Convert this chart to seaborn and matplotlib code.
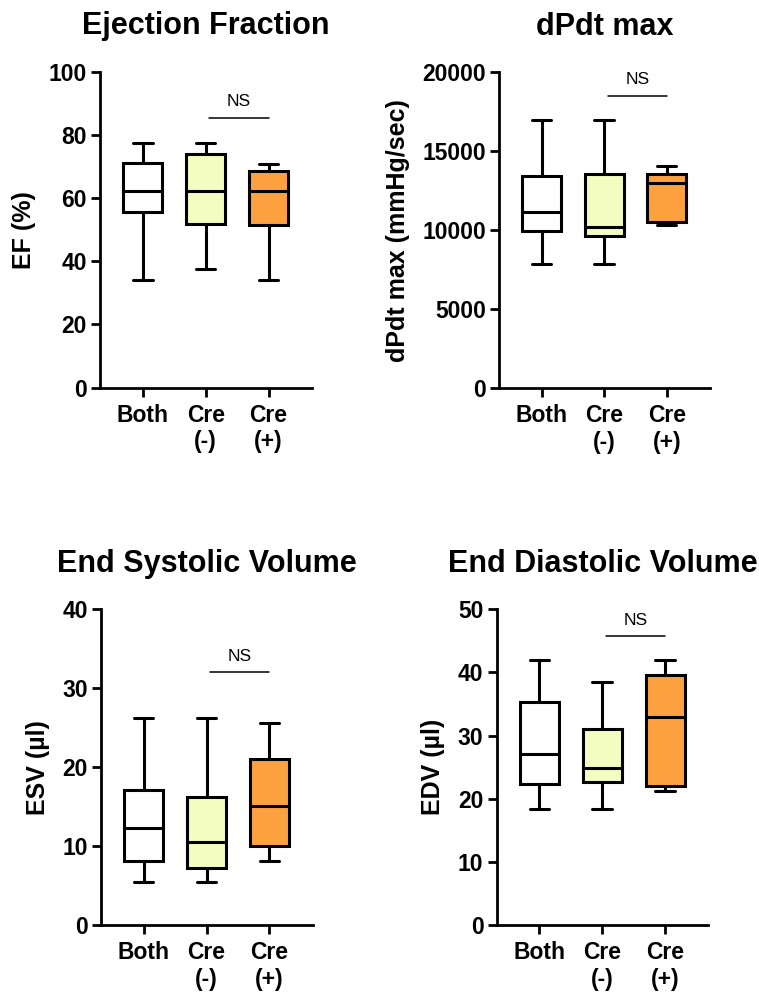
import pandas as pd
import numpy as np
from matplotlib import pyplot as plt
import seaborn as sns

groups = ['Both', 'Cre\n(-)', 'Cre\n(+)']
colors = ['#FFFFFF', '#F3FDC1', '#FDA040']

# five-number summaries per group: min, Q1, median, Q3, max
ef_both = [34.1, 55.6, 62.4, 71.2, 77.3]
ef_cre_neg = [37.6, 51.7, 62.2, 73.8, 77.3]
ef_cre_pos = [34.1, 51.6, 62.4, 68.5, 70.9]

dpdt_both = [7850, 9940, 11140, 13440, 17000]
dpdt_cre_neg = [7850, 9620, 10230, 13570, 17000]
dpdt_cre_pos = [10340, 10530, 12980, 13570, 14070]

esv_both = [5.5, 8.1, 12.3, 17.1, 26.3]
esv_cre_neg = [5.5, 7.2, 10.5, 16.2, 26.3]
esv_cre_pos = [8.2, 10.0, 15.1, 21.0, 25.6]

edv_both = [18.4, 22.4, 27.1, 35.4, 41.9]
edv_cre_neg = [18.4, 22.6, 24.9, 31.0, 38.5]
edv_cre_pos = [21.3, 22.0, 32.9, 39.6, 41.9]

titles = ['Ejection Fraction', 'dPdt max', 'End Systolic Volume', 'End Diastolic Volume']
ylabels = ['EF (%)', 'dPdt max (mmHg/sec)', 'ESV (\u00b5l)', 'EDV (\u00b5l)']
ymaxes = [100, 20000, 40, 50]
ysteps = [20, 5000, 10, 10]
ns_levels = [85.4, 18480, 32.0, 45.7]

panels = [
    [ef_both, ef_cre_neg, ef_cre_pos],
    [dpdt_both, dpdt_cre_neg, dpdt_cre_pos],
    [esv_both, esv_cre_neg, esv_cre_pos],
    [edv_both, edv_cre_neg, edv_cre_pos],
]

sns.set_style('ticks')
plt.rcParams['font.family'] = ['Liberation Sans', 'DejaVu Sans']
plt.rcParams['font.weight'] = 'bold'
for key in ['text.color', 'axes.labelcolor', 'xtick.color', 'ytick.color', 'axes.edgecolor']:
    plt.rcParams[key] = 'black'

fig = plt.figure(figsize=(7.59, 9.93), dpi=100)
positions = [
    [0.1318, 0.6096, 0.2793, 0.3182],
    [0.6574, 0.6090, 0.2780, 0.3182],
    [0.1331, 0.0682, 0.2789, 0.3182],
    [0.6544, 0.0682, 0.2789, 0.3182],
]

for i, vals in enumerate(panels):
    ax = fig.add_axes(positions[i])
    df = pd.DataFrame({
        'group': np.repeat(groups, 5),
        'value': np.concatenate(vals),
    })
    sns.boxplot(data=df, x='group', y='value', hue='group', order=groups,
                hue_order=groups, palette=colors, saturation=1, whis=(0, 100),
                width=0.62, linewidth=2.2, linecolor='black', showfliers=False,
                legend=False, ax=ax)
    ax.set_ylim(0, ymaxes[i])
    ax.set_yticks(np.arange(0, ymaxes[i] + 1, ysteps[i]))
    ax.set_xlim(-0.68, 2.69)
    ax.set_xlabel('')
    ax.set_ylabel(ylabels[i], fontsize=18, fontweight='bold', labelpad=9)
    ax.set_title(titles[i], fontsize=22, fontweight='bold', pad=27)
    sns.despine(ax=ax)
    for side in ['left', 'bottom']:
        ax.spines[side].set_linewidth(2)
    ax.tick_params(axis='both', width=2, length=6.5, labelsize=16.5, pad=3)
    ax.tick_params(axis='x', labelsize=16.5, pad=5)
    for lbl in ax.get_xticklabels() + ax.get_yticklabels():
        lbl.set_fontweight('bold')
    # NS bracket between Cre(-) and Cre(+)
    ax.plot([1.06, 2.0], [ns_levels[i]] * 2, color='black', lw=1.1)
    ax.text(1.53, ns_levels[i] + ymaxes[i] * 0.028, 'NS', ha='center', va='bottom',
            fontsize=12.5, fontweight='normal')

fig.savefig('out.png', dpi=100)
